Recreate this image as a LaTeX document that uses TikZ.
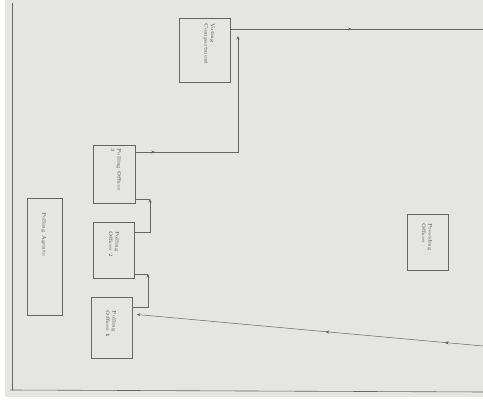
\documentclass[tikz,border=0pt]{standalone}
\usetikzlibrary{arrows.meta,decorations.markings}
\definecolor{paper}{RGB}{229,230,227}
\definecolor{pen}{RGB}{100,101,101}
\definecolor{ink}{RGB}{70,72,74}
\tikzset{
  box/.style={draw=pen, line width=0.6pt, inner sep=0pt},
  lbl/.style={font=\fontsize{5}{6.5}\selectfont, text=ink, rotate=-90, align=left},
  link/.style={draw=pen, line width=0.5pt},
  tip/.style={-{Stealth[length=3.5pt,width=3pt]}},
  midarrow/.style={postaction={decorate}, decoration={markings, mark=at position #1 with {\arrow{Stealth[length=3.5pt,width=3pt]}}}}
}
\begin{document}
\begin{tikzpicture}[x=1pt,y=-1pt]
\useasboundingbox (0,0) rectangle (483,403);
\fill[white] (0,0) rectangle (483,403);
\fill[paper] (5,0) rectangle (483,397);
% paper edge lines
\draw[pen, line width=0.8pt] (12,3) -- (12,390);
\draw[pen, line width=0.6pt] (10,390) -- (483,392);
% boxes
\node[box, minimum width=51pt, minimum height=64pt] (vc) at (204.5,50) {};
\node[lbl] (tvc) at (209,44) {Voting\\Compartment};
\node[box, minimum width=42pt, minimum height=58pt] (po3) at (114,174) {};
\node[lbl] (tpo3) at (116,170) {Polling Officer\\3};
\node[box, minimum width=41pt, minimum height=56pt] (po2) at (114,250) {};
\node[lbl] (tpo2) at (114,244) {Polling\\Officer 2};
\node[box, minimum width=41pt, minimum height=61pt] (po1) at (112,327.5) {};
\node[lbl] (tpo1) at (111,324) {Polling\\Officer \textbf{1}};
\node[box, minimum width=35pt, minimum height=117pt] (pa) at (44.5,256.5) {};
\node[lbl] (tpa) at (44,234) {Polling Agents};
\node[box, minimum width=41pt, minimum height=56pt] (pr) at (427.5,242) {};
\node[lbl] (tpr) at (427,237) {Presiding\\Officer};
% coordinates
\coordinate (entry) at (483,346);
\coordinate (a1) at (148,307);
\coordinate (a2) at (148,274);
\coordinate (b1) at (150,232);
\coordinate (b2) at (150,199);
\coordinate (c1) at (238,152);
\coordinate (c2) at (238,36);
\coordinate (exit) at (483,29);
% entrance to Polling Officer 1
\draw[link, tip, midarrow=0.11, midarrow=0.455] (entry) -- ([xshift=4pt,yshift=13pt]po1.east);
% PO1 -> PO2
\draw[link, tip] (po1.east |- a1) -- (a1) -- (a2);
\draw[link] (a2) -- (po2.east |- a2);
% PO2 -> PO3
\draw[link, tip] (po2.east |- b1) -- (b1) -- (b2);
\draw[link] (b2) -- (po3.east |- b2);
% PO3 -> Voting Compartment
\draw[link, tip, midarrow=0.09] (po3.east |- c1) -- (c1) -- (c2);
% exit
\draw[link, midarrow=0.48] (vc.east |- exit) -- (exit);
\end{tikzpicture}
\end{document}
